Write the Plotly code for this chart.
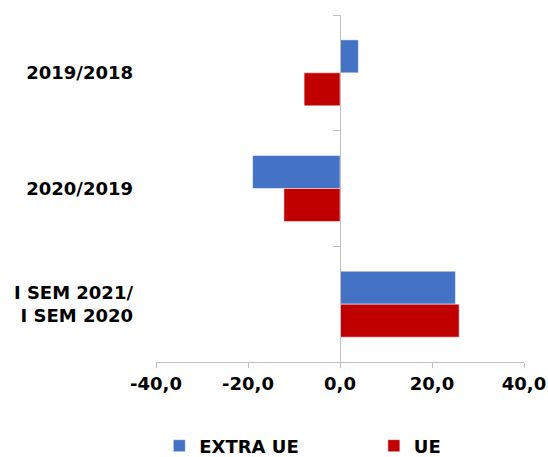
import plotly.graph_objects as go

categories = ["2019/2018", "2020/2019", "I SEM 2021/<br>I SEM 2020"]
extra_ue = [4.0, -19.0, 25.1]
ue = [-7.8, -12.2, 25.9]
x_ticks = [-40, -20, 0, 20, 40]
x_tick_labels = ["-40,0", "-20,0", "0,0", "20,0", "40,0"]

BLUE = "#4472C4"
RED = "#C00000"
GRAY = "#BFBFBF"
FONT = dict(family="DejaVu Sans", size=18, color="#000000", weight="bold")

fig = go.Figure()
fig.add_trace(go.Bar(y=categories, x=extra_ue, orientation="h", name="EXTRA UE",
                     legend="legend",
                     marker=dict(color=BLUE, line=dict(color="#FFFFFF", width=0.5))))
fig.add_trace(go.Bar(y=categories, x=ue, orientation="h", name="UE",
                     legend="legend2",
                     marker=dict(color=RED, line=dict(color="#FFFFFF", width=0.5))))
# invisible helper trace to drive the central category axis (line + boundary ticks)
fig.add_trace(go.Scatter(y=categories, x=[0, 0, 0], yaxis="y2", mode="markers",
                         marker=dict(opacity=0), showlegend=False, hoverinfo="skip"))

legend_common = dict(orientation="h", yanchor="middle", y=-0.242, xanchor="left",
                     font=FONT, bgcolor="rgba(0,0,0,0)",
                     itemclick=False, itemdoubleclick=False)

fig.update_layout(
    width=548, height=457,
    margin=dict(l=156, r=24, t=15, b=95, autoexpand=False),
    paper_bgcolor="white", plot_bgcolor="white",
    barmode="group", bargap=0.43, bargroupgap=0,
    font=FONT,
    showlegend=True,
    legend=dict(x=0.009, **legend_common),
    legend2=dict(x=0.592, **legend_common),
    xaxis=dict(range=[-40, 40], tickvals=x_ticks, ticktext=x_tick_labels,
               showgrid=False, zeroline=False, showline=True, linecolor=GRAY, linewidth=1,
               ticks="outside", ticklen=5, tickcolor=GRAY, tickfont=FONT,
               ticklabelstandoff=0),
    yaxis=dict(categoryorder="array", categoryarray=categories, range=[2.5, -0.5],
               showgrid=False, zeroline=False, showline=False, ticks="",
               tickfont=FONT, ticklabelstandoff=22),
    yaxis2=dict(overlaying="y", anchor="free", position=0.5, side="left",
                categoryorder="array", categoryarray=categories, range=[2.5, -0.5],
                showgrid=False, zeroline=False, showline=True, linecolor=GRAY, linewidth=1,
                ticks="outside", ticklen=7, tickcolor=GRAY, tickson="boundaries",
                showticklabels=False),
)

fig.write_html("out.html", config={"displayModeBar": False},
               post_script="document.body.style.margin='0';document.body.style.overflow='hidden';")
